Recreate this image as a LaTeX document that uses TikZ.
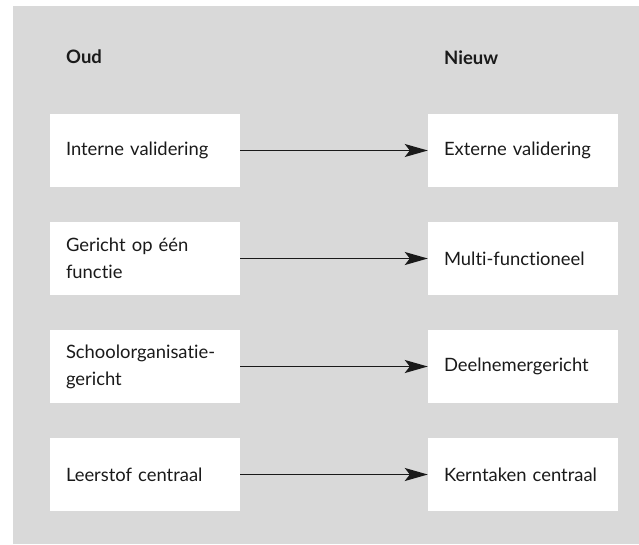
\documentclass[tikz,border=0pt]{standalone}
\usepackage{fontspec}
\setmainfont{Lato}[Ligatures={NoCommon}]
\usetikzlibrary{arrows.meta}
\definecolor{bggray}{RGB}{217,217,217}
\definecolor{ink}{RGB}{26,26,26}
\begin{document}
\begin{tikzpicture}[x=1pt,y=-1pt,
  itembox/.style={fill=white, draw=none, minimum width=190pt, minimum height=73pt,
    inner xsep=16pt, inner ysep=0pt, text width=158pt, align=left,
    font=\fontsize{18.4pt}{27pt}\selectfont, text=ink},
  header/.style={anchor=base west, inner sep=0pt, font=\fontsize{18.5pt}{22pt}\selectfont\bfseries, text=ink},
  arr/.style={draw=ink, line width=1.6pt, -{Stealth[length=23pt, width=13pt, inset=5pt]}}
]
\useasboundingbox (0,0) rectangle (639,544);
\fill[bggray] (13,6) rectangle (639,544);

\node[header] (hOld) at (66,63.5) {Oud};
\node[header] (hNew) at (444,64) {Nieuw};

\node[itembox] (l1) at (145,150.5) {Interne validering};
\node[itembox] (l2) at (145,258.5) {Gericht op één\\functie};
\node[itembox] (l3) at (145,366.5) {Schoolorganisatie-\\gericht};
\node[itembox] (l4) at (145,474.5) {Leerstof centraal};

\node[itembox] (r1) at (523,150.5) {Externe validering};
\node[itembox] (r2) at (523,258.5) {Multi-functioneel};
\node[itembox] (r3) at (523,366.5) {Deelnemergericht};
\node[itembox] (r4) at (523,474.5) {Kerntaken centraal};

\draw[arr] (l1) -- (r1);
\draw[arr] (l2) -- (r2);
\draw[arr] (l3) -- (r3);
\draw[arr] (l4) -- (r4);
\end{tikzpicture}
\end{document}
